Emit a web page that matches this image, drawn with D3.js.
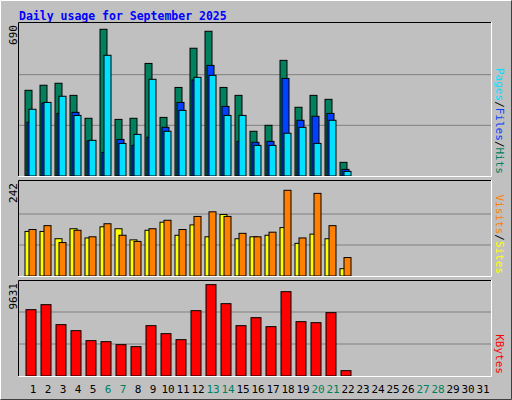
<!DOCTYPE html>
<html><head><meta charset="utf-8">
<script src="https://cdn.jsdelivr.net/npm/d3@7"></script>
<style>body{margin:0;background:#fff}</style>
</head><body>
<script>
// daily values, September 2025
const days = d3.range(1, 32);
const hits   = [389,412,421,366,262,666,257,262,511,266,402,580,657,402,366,203,230,525,312,366,348,62];
const files  = [244,331,284,289,159,107,166,139,176,221,334,436,502,316,157,153,157,443,253,271,284,30];
const pages  = [303,334,362,275,162,548,148,189,439,203,298,448,457,275,275,139,139,194,221,148,253,21];
const sites  = [116,116,97,123,99,128,123,94,119,140,106,133,102,160,97,102,106,126,85,109,97,19];
const visits = [121,131,87,119,102,136,106,90,123,145,121,155,167,155,111,102,114,223,99,215,131,48];
const kbytes = [6655,7156,5150,4548,3545,3444,3143,2943,5050,4247,3645,6554,9163,7257,5050,5852,4949,8461,5451,5351,6354,535];
const weekend = [6,7,13,14,20,21,27,28];

const svg = d3.select("body").append("svg").attr("width",512).attr("height",400);
svg.append("rect").attr("width",512).attr("height",400).attr("fill","#c0c0c0");
svg.append("path").attr("d","M0.5,399.5V0.5H511.5").attr("stroke","#fff").attr("fill","none");
svg.append("path").attr("d","M0.5,399.5H511.5V0.5").attr("stroke","#404040").attr("fill","none");
svg.append("text").attr("x",19).attr("y",20).text("Daily usage for September 2025")
  .attr("font-family","DejaVu Sans Mono").attr("font-weight","bold").attr("font-size",11.5).attr("fill","#0000ff");

const x = d3.scaleBand().domain(days).range([25.5,490.5]);
const font = "DejaVu Sans Mono";

function panel(y0, top, y1, max, label, series) {
  svg.append("rect").attr("x",18).attr("y",y0).attr("width",473).attr("height",y1-y0).attr("fill","#c0c0c0");
  const y = d3.scaleLinear().domain([0,max]).range([y1, top]);
  [1,2].forEach(i => svg.append("line").attr("x1",18).attr("x2",491)
     .attr("y1",y(max*i/3)).attr("y2",y(max*i/3)).attr("stroke","#808080"));
  series.forEach(s => {
    svg.append("g").selectAll("rect").data(s.data).join("rect")
      .attr("x",(d,i)=>x(i+1)+s.off).attr("width",s.w)
      .attr("y",d=>y(d)).attr("height",d=>y1-y(d))
      .attr("fill",s.color).attr("stroke","#000").attr("stroke-width",1);
  });
  svg.append("path").attr("d",`M18.5,${y1}V${y0+.5}H491`).attr("stroke","#000").attr("fill","none");
  svg.append("path").attr("d",`M18.5,${y1+.5}H491.5V${y0}`).attr("stroke","#fff").attr("fill","none");
  svg.append("text").attr("transform",`translate(17,${y0+3}) rotate(-90)`).attr("text-anchor","end")
    .attr("font-family",font).attr("font-size",11).text(label);
  const t = svg.append("text").attr("transform",`translate(497,${y1-2}) rotate(90)`)
    .attr("font-family",font).attr("font-size",11).attr("text-anchor","end").attr("dy","0.1em");
  series.slice().reverse().forEach((s,i) => {
    if (i) t.append("tspan").attr("fill","#000").text("/");
    t.append("tspan").attr("fill",s.color).text(s.name);
  });
}

panel(22, 24, 176, 690, "690", [
  {name:"Hits",  data:hits,  color:"#00805c", off:-0.5, w:7},
  {name:"Files", data:files, color:"#0040ff", off:1.5,  w:7},
  {name:"Pages", data:pages, color:"#00e0ff", off:3.5,  w:7}
]);

panel(180, 183, 276, 242, "242", [
  {name:"Sites",  data:sites,  color:"#ffff00", off:-0.5, w:7},
  {name:"Visits", data:visits, color:"#ff8000", off:3.5,  w:7}
]);

panel(280, 280, 376, 9631, "9631", [
  {name:"KBytes", data:kbytes, color:"#ff0000", off:0.5, w:10}
]);

svg.append("g").selectAll("text").data(days).join("text")
  .attr("x",d=>x(d)+x.bandwidth()/2).attr("y",393).attr("text-anchor","middle")
  .attr("font-family",font).attr("font-size",11)
  .attr("fill",d=>weekend.includes(d)?"#00805c":"#000").text(d=>d);
</script>
</body></html>
